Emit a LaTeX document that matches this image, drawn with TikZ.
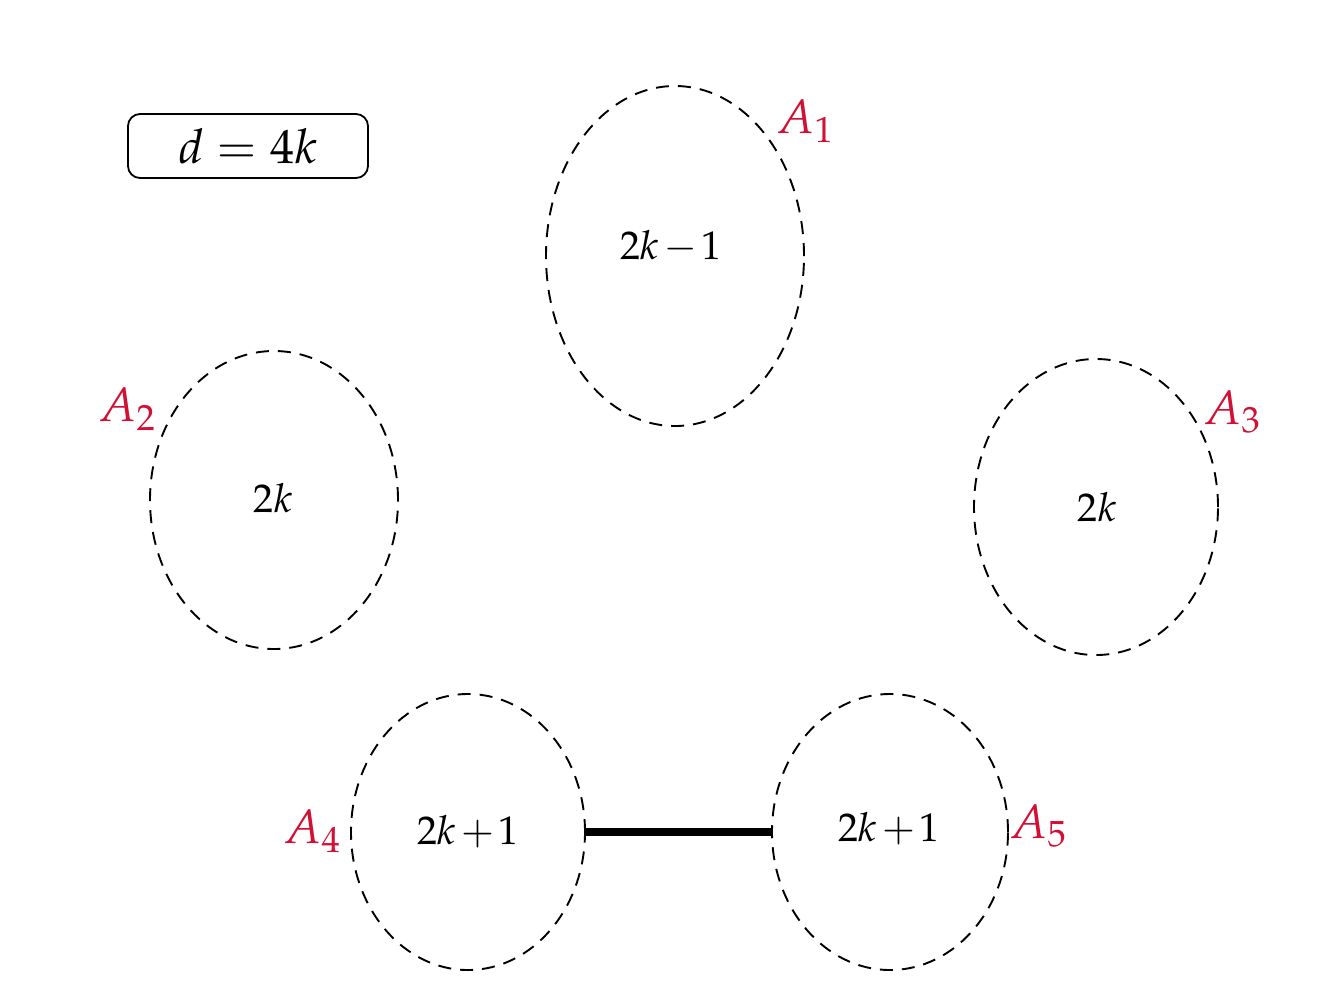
\documentclass[tikz,border=0pt]{standalone}
\usepackage{mathpazo}
\usetikzlibrary{shapes.geometric}
\definecolor{lblred}{RGB}{210,16,52}
\newcommand{\tsp}{\mskip-1.5mu}
\tikzset{
  part/.style={draw, ellipse, dash pattern=on 6.5pt off 4.5pt, line width=0.95pt, inner sep=0pt, outer sep=0pt},
  lbl/.style={text=lblred, font=\fontsize{24}{28}\selectfont, inner sep=0pt},
  val/.style={font=\fontsize{20}{24}\selectfont, inner sep=0pt},
  keybox/.style={draw, rounded corners=6pt, line width=0.9pt, minimum width=120pt, minimum height=32pt, font=\fontsize{24}{28}\selectfont},
  bridge/.style={line width=4pt}
}
\begin{document}
\begin{tikzpicture}[x=0.5pt,y=-0.5pt]
\useasboundingbox (0,0) rectangle (1324,998);
\node[keybox] (key) at (248,146) {$d = 4k$};
\node[part, minimum width=129pt, minimum height=170pt] (e1) at (675,256) {};
\node[part, minimum width=124pt, minimum height=149pt] (e2) at (274,500) {};
\node[part, minimum width=122pt, minimum height=148pt] (e3) at (1096,507) {};
\node[part, minimum width=117pt, minimum height=138pt] (e4) at (468,832) {};
\node[part, minimum width=118pt, minimum height=138pt] (e5) at (890,832) {};
\node[val] (t1) at (671,247) {$2k\tsp-\tsp1$};
\node[val] (t2) at (273,498) {$2k$};
\node[val] (t3) at (1097,507) {$2k$};
\node[val] (t4) at (468,832) {$2k\tsp+\tsp1$};
\node[val] (t5) at (889,829) {$2k\tsp+\tsp1$};
\node[lbl] (l1) at (805,121) {$A_1$};
\node[lbl] (l2) at (127,409) {$A_2$};
\node[lbl] (l3) at (1232,412) {$A_3$};
\node[lbl] (l4) at (312,831) {$A_4$};
\node[lbl] (l5) at (1038,826) {$A_5$};
\draw[bridge] (e4.east) -- (e5.west);
\end{tikzpicture}
\end{document}
